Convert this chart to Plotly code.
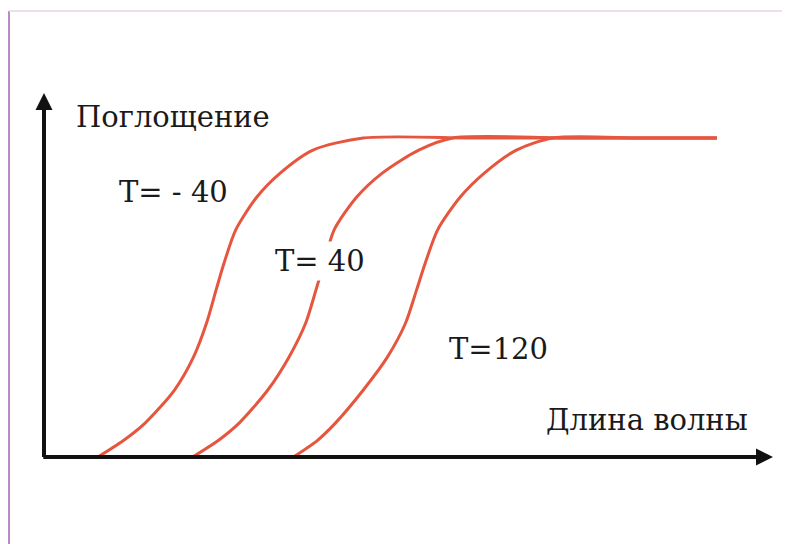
import plotly.graph_objects as go

# Absorbance (normalised) sampled along each curve
absorbance = [0.0, 0.05, 0.107, 0.21, 0.313, 0.42, 0.523, 0.608, 0.712, 0.815, 0.89, 0.962, 1.0, 1.0, 1.0]

# Wavelength (arbitrary units) for each temperature curve
wl_t_minus40 = [7.4, 10.8, 13.9, 17.9, 20.5, 22.3, 23.6, 24.7, 26.3, 29.2, 32.4, 36.9, 43.8, 60.0, 92.3]
wl_t_40 = [20.4, 23.8, 26.8, 30.7, 33.6, 35.9, 37.3, 38.4, 39.8, 42.9, 46.4, 51.4, 56.1, 72.0, 92.3]
wl_t_120 = [34.2, 37.4, 40.0, 43.8, 47.1, 49.6, 51.1, 52.3, 54.0, 57.1, 60.4, 64.8, 69.8, 82.0, 92.3]

curve_labels = ["T= - 40", "T= 40", "T=120"]
label_x = [17.8, 37.9, 62.3]
label_y = [0.83, 0.615, 0.34]

y_title = "Поглощение"
x_title = "Длина волны"

line_color = "#e6563e"
X_MAX = 100
Y_MAX = 1.141

fig = go.Figure()
for wl in (wl_t_minus40, wl_t_40, wl_t_120):
    fig.add_trace(go.Scatter(
        x=wl, y=absorbance, mode="lines",
        line=dict(color=line_color, width=3, shape="spline", smoothing=0.75),
        hoverinfo="skip", showlegend=False, cliponaxis=False,
    ))

annotations = []
# Axis arrows
annotations.append(dict(x=X_MAX, y=0, ax=-0.3, ay=0, xref="x", yref="y", axref="x", ayref="y",
                        text="", showarrow=True, arrowhead=2, arrowsize=0.85, arrowwidth=4,
                        arrowcolor="#111111", standoff=0))
annotations.append(dict(x=0, y=Y_MAX, ax=0, ay=-0.005, xref="x", yref="y", axref="x", ayref="y",
                        text="", showarrow=True, arrowhead=2, arrowsize=0.85, arrowwidth=4,
                        arrowcolor="#111111", standoff=0))

font_t = dict(family="DejaVu Serif", size=29, color="#1a1a1a")
for txt, lx, ly in zip(curve_labels, label_x, label_y):
    annotations.append(dict(x=lx, y=ly, xref="x", yref="y", text=txt, showarrow=False,
                            font=font_t, bgcolor="white", borderpad=2))

font_ax = dict(family="DejaVu Serif", size=29, color="#1a1a1a")
annotations.append(dict(x=17.7, y=1.065, xref="x", yref="y", text=y_title, showarrow=False, font=font_ax))
annotations.append(dict(x=82.7, y=0.115, xref="x", yref="y", text=x_title, showarrow=False, font=font_ax))

shapes = [
    # frame lines of the original picture
    dict(type="line", xref="paper", yref="paper", x0=-0.048, x1=-0.048, y0=1.225, y1=-0.26,
         line=dict(color="#b98ac4", width=2)),
    dict(type="line", xref="paper", yref="paper", x0=-0.048, x1=1.05, y0=1.225, y1=1.225,
         line=dict(color="#eadfea", width=2)),
]

fig.update_layout(
    width=790, height=544,
    margin=dict(l=36, r=25, t=85, b=95),
    paper_bgcolor="white", plot_bgcolor="white",
    xaxis=dict(range=[0, X_MAX], visible=False, fixedrange=True),
    yaxis=dict(range=[0, Y_MAX], visible=False, fixedrange=True),
    annotations=annotations, shapes=shapes,
    showlegend=False,
)

fig.write_html("out.html")
